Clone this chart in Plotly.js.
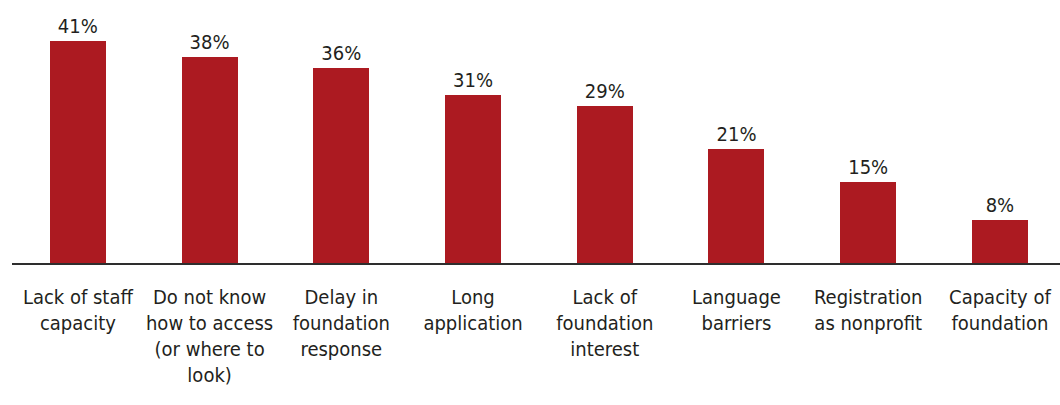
<!DOCTYPE html>
<html>
<head>
<meta charset="utf-8">
<script src="https://cdn.plot.ly/plotly-3.0.1.min.js"></script>
<style>
html,body{margin:0;padding:0;background:#fff;}
#chart{width:1060px;height:405px;}
</style>
</head>
<body>
<div id="chart"></div>
<script>
const categories = [
  "Lack of staff<br>capacity",
  "Do not know<br>how to access<br>(or where to<br>look)",
  "Delay in<br>foundation<br>response",
  "Long<br>application",
  "Lack of<br>foundation<br>interest",
  "Language<br>barriers",
  "Registration<br>as nonprofit",
  "Capacity of<br>foundation"
];
const values = [41, 38, 36, 31, 29, 21, 15, 8];
const valueLabels = values.map(v => v + "%");

const FONT = "'DejaVu Sans Condensed', 'Liberation Sans Narrow', sans-serif";

Plotly.newPlot("chart", [{
  type: "bar",
  x: categories.map((c, i) => i),
  y: values,
  text: valueLabels,
  textposition: "outside",
  cliponaxis: false,
  constraintext: "none",
  textfont: {family: FONT, size: 20, color: "#231f20"},
  marker: {color: "#AC1A21"},
  width: 0.425,
  hoverinfo: "none"
}], {
  width: 1060,
  height: 405,
  margin: {l: 12, r: 0, t: 0, b: 142},
  paper_bgcolor: "#fff",
  plot_bgcolor: "#fff",
  showlegend: false,
  bargap: 0,
  xaxis: {
    range: [-0.5, 7.456],
    tickmode: "array",
    tickvals: [0,1,2,3,4,5,6,7],
    ticktext: categories,
    tickangle: 0,
    automargin: false,
    showline: true,
    linecolor: "#2e2e2e",
    linewidth: 2,
    showgrid: false,
    zeroline: false,
    ticks: "",
    ticklabelstandoff: 15,
    tickfont: {family: FONT, size: 20, color: "#231f20"}
  },
  yaxis: {
    range: [0, 48.5],
    visible: false,
    showgrid: false,
    zeroline: false,
    fixedrange: true
  }
}, {displayModeBar: false, staticPlot: true});
</script>
</body>
</html>
